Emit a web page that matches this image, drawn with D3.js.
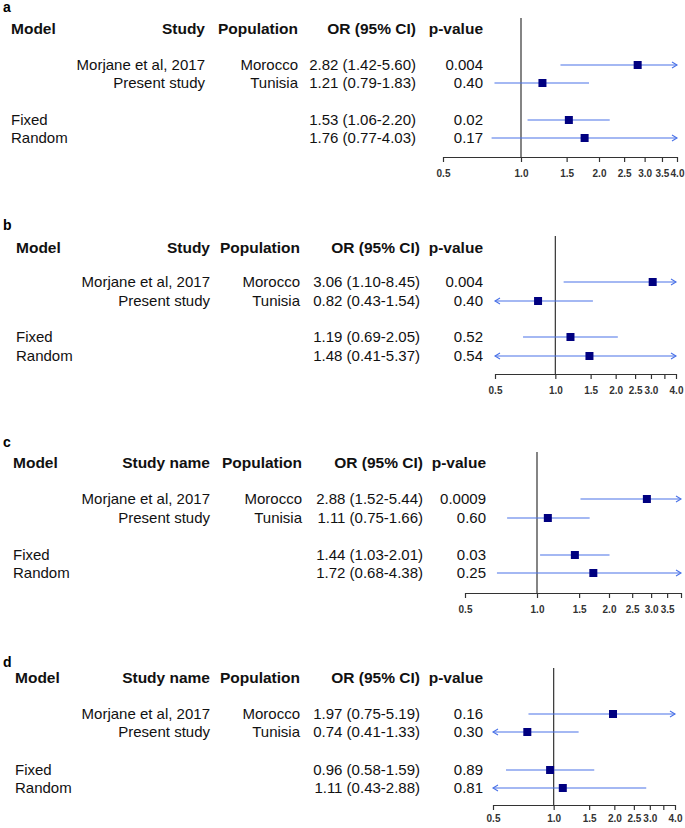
<!DOCTYPE html>
<html>
<head>
<meta charset="utf-8">
<script src="https://cdn.jsdelivr.net/npm/d3@7"></script>
<style>
  html, body { margin: 0; padding: 0; background: #fff; }
  svg { display: block; }
  text { font-family: "Liberation Sans", Arial, sans-serif; }
</style>
</head>
<body>
<svg id="chart" width="685" height="828"></svg>
<script>
// ---------------- DATA ----------------
const panelLetters = ["a", "b", "c", "d"];
const studyHeaders = ["Study", "Study", "Study name", "Study name"];
const modelLabels = ["", "", "Fixed", "Random"];
const studyLabels = ["Morjane et al, 2017", "Present study", "", ""];
const populations = ["Morocco", "Tunisia", "", ""];

const orA = [2.82, 1.21, 1.53, 1.76];
const lowA = [1.42, 0.79, 1.06, 0.77];
const highA = [5.60, 1.83, 2.20, 4.03];
const pA = ["0.004", "0.40", "0.02", "0.17"];

const orB = [3.06, 0.82, 1.19, 1.48];
const lowB = [1.10, 0.43, 0.69, 0.41];
const highB = [8.45, 1.54, 2.05, 5.37];
const pB = ["0.004", "0.40", "0.52", "0.54"];

const orC = [2.88, 1.11, 1.44, 1.72];
const lowC = [1.52, 0.75, 1.03, 0.68];
const highC = [5.44, 1.66, 2.01, 4.38];
const pC = ["0.0009", "0.60", "0.03", "0.25"];

const orD = [1.97, 0.74, 0.96, 1.11];
const lowD = [0.75, 0.41, 0.58, 0.43];
const highD = [5.19, 1.33, 1.59, 2.88];
const pD = ["0.16", "0.30", "0.89", "0.81"];

const tickValues = [0.5, 1.0, 1.5, 2.0, 2.5, 3.0, 3.5, 4.0];
const shownTicksA = ["0.5", "1.0", "1.5", "2.0", "2.5", "3.0", "3.5", "4.0"];
const shownTicksB = ["0.5", "1.0", "1.5", "2.0", "2.5", "3.0", "4.0"];
const shownTicksC = ["0.5", "1.0", "1.5", "2.0", "2.5", "3.0", "3.5"];
const shownTicksD = ["0.5", "1.0", "1.5", "2.0", "2.5", "3.0", "4.0"];
const axisDomain = [0.5, 4.0];

// ---------------- LAYOUT ----------------
const panels = [
  { or: orA, lo: lowA, hi: highA, p: pA, shown: shownTicksA, pad: 8,
    letterY: 7, headerY: 29, rowY: [65, 83, 120, 138], axisY: 157, lineTop: 18,
    modelX: 11, studyR: 205, popR: 298, orR: 416, pR: 483, range: [443, 677] },
  { or: orB, lo: lowB, hi: highB, p: pB, shown: shownTicksB, pad: 8,
    letterY: 225, headerY: 248, rowY: [282, 301, 337, 356], axisY: 374, lineTop: 236,
    modelX: 16, studyR: 210, popR: 300, orR: 420, pR: 483, range: [495, 676] },
  { or: orC, lo: lowC, hi: highC, p: pC, shown: shownTicksC, pad: 8,
    letterY: 442, headerY: 463, rowY: [499, 518, 555, 573], axisY: 593, lineTop: 452,
    modelX: 13, studyR: 210, popR: 302, orR: 423, pR: 486, range: [465, 681] },
  { or: orD, lo: lowD, hi: highD, p: pD, shown: shownTicksD, pad: 5,
    letterY: 662, headerY: 678, rowY: [714, 732, 770, 788], axisY: 805, lineTop: 668,
    modelX: 15, studyR: 210, popR: 300, orR: 420, pR: 483, range: [493, 675] }
];

const svg = d3.select("#chart");
const FS = 15;
const lineColor = "#4a72e8";
const boxColor = "#000080";

panels.forEach((P, pi) => {
  const g = svg.append("g");
  const x = d3.scaleLog().domain(axisDomain).range(P.range);

  // panel letter
  g.append("text").attr("x", 3).attr("y", P.letterY).attr("dy", "0.35em")
    .attr("font-size", 14).attr("font-weight", "bold").text(panelLetters[pi]);

  // headers
  const hdr = [
    { t: "Model", x: P.modelX, a: "start" },
    { t: studyHeaders[pi], x: P.studyR, a: "end" },
    { t: "Population", x: P.popR, a: "end" },
    { t: "OR (95% CI)", x: P.orR, a: "end" },
    { t: "p-value", x: P.pR, a: "end" }
  ];
  hdr.forEach(h => {
    g.append("text").attr("x", h.x).attr("y", P.headerY).attr("dy", "0.35em")
      .attr("font-size", 15.5).attr("font-weight", "bold").attr("text-anchor", h.a)
      .attr("fill", "#111").text(h.t);
  });

  // rows text
  P.rowY.forEach((y, i) => {
    const t = (s, xx, a) => g.append("text").attr("x", xx).attr("y", y).attr("dy", "0.35em")
      .attr("font-size", FS).attr("text-anchor", a).attr("fill", "#111").text(s);
    if (modelLabels[i]) t(modelLabels[i], P.modelX, "start");
    if (studyLabels[i]) t(studyLabels[i], P.studyR, "end");
    if (populations[i]) t(populations[i], P.popR, "end");
    t(`${P.or[i].toFixed(2)} (${P.lo[i].toFixed(2)}-${P.hi[i].toFixed(2)})`, P.orR, "end");
    t(P.p[i], P.pR, "end");
  });

  // reference line at OR = 1
  g.append("line").attr("x1", x(1)).attr("x2", x(1))
    .attr("y1", P.lineTop).attr("y2", P.axisY)
    .attr("stroke", "#333").attr("stroke-width", 1.2);

  // axis
  const axis = d3.axisBottom(x).tickValues(tickValues).tickSizeOuter(0).tickSizeInner(5)
    .tickPadding(P.pad)
    .tickFormat(v => P.shown.includes(v.toFixed(1)) ? v.toFixed(1) : "");
  const ag = g.append("g").attr("transform", `translate(0,${P.axisY})`).call(axis);
  ag.select(".domain").attr("stroke", "#333").attr("stroke-width", 1.2);
  ag.selectAll(".tick line").attr("stroke", "#333").attr("stroke-width", 1.2);
  ag.selectAll(".tick text").attr("font-size", 10).attr("fill", "#333")
    .attr("font-family", "Liberation Sans, Arial, sans-serif").attr("font-weight", "bold");

  // CIs
  const [dMin, dMax] = axisDomain;
  P.rowY.forEach((y, i) => {
    const lo = Math.max(P.lo[i], dMin), hi = Math.min(P.hi[i], dMax);
    const x1 = x(lo), x2 = x(hi);
    g.append("line").attr("x1", x1).attr("x2", x2).attr("y1", y).attr("y2", y)
      .attr("stroke", lineColor).attr("stroke-width", 1.1);
    if (P.hi[i] > dMax) {
      g.append("path").attr("d", `M${x2 - 5},${y - 3}L${x2},${y}L${x2 - 5},${y + 3}`)
        .attr("fill", "none").attr("stroke", lineColor).attr("stroke-width", 1.1);
    }
    if (P.lo[i] < dMin) {
      g.append("path").attr("d", `M${x1 + 5},${y - 3}L${x1},${y}L${x1 + 5},${y + 3}`)
        .attr("fill", "none").attr("stroke", lineColor).attr("stroke-width", 1.1);
    }
    const s = 8;
    g.append("rect").attr("x", x(P.or[i]) - s / 2).attr("y", y - s / 2)
      .attr("width", s).attr("height", s).attr("fill", boxColor);
  });
});
</script>
</body>
</html>
